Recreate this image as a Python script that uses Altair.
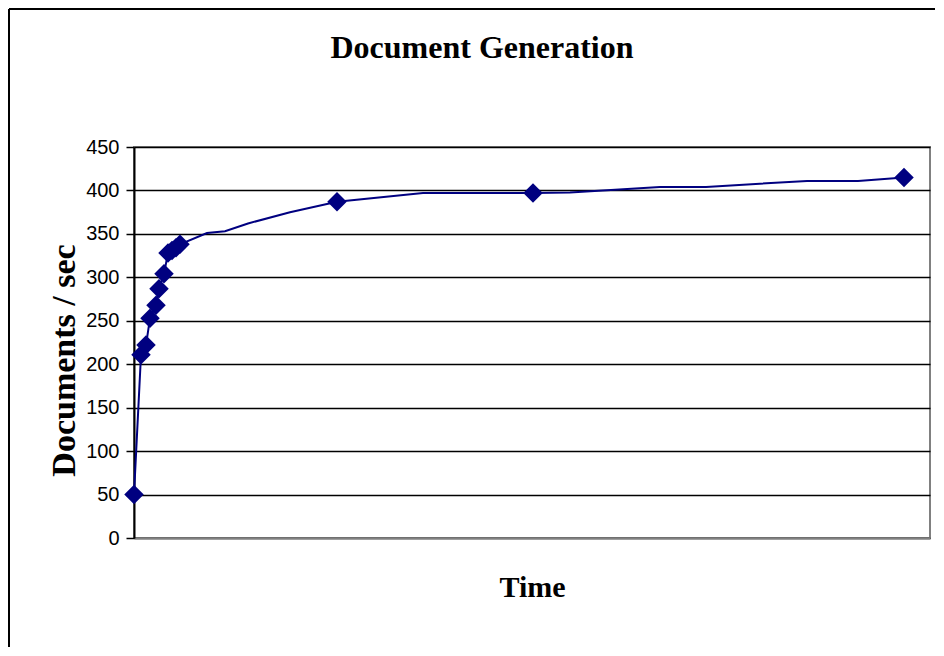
import altair as alt
import pandas as pd

# Line series (time in arbitrary units, documents/sec)
line_time = [0, 7, 12, 16, 22, 25, 30, 34, 38, 42, 46, 73, 91, 114, 156, 203,
             289, 399, 436, 526, 572, 673, 724, 770]
line_docs = [50, 211, 222, 253, 268, 287, 304, 328, 331, 334, 338, 351, 353,
             362, 375, 387, 397, 397, 397.5, 404, 404, 411, 411, 415]

# Marked measurements
mark_time = [0, 7, 12, 16, 22, 25, 30, 34, 38, 42, 46, 203, 399, 770]
mark_docs = [50, 211, 222, 253, 268, 287, 304, 328, 331, 334, 338, 387, 397, 415]

y_ticks = [0, 50, 100, 150, 200, 250, 300, 350, 400, 450]

title_text = "Document Generation"
x_title = "Time"
y_title = "Documents / sec"

NAVY = "#000080"
W, H = 796, 391

line_df = pd.DataFrame({"t": line_time, "d": line_docs})
mark_df = pd.DataFrame({"t": mark_time, "d": mark_docs})

x_enc = alt.X("t:Q", scale=alt.Scale(domain=[0, 796], nice=False, zero=False),
              axis=alt.Axis(title=x_title, labels=False, ticks=False, grid=False,
                            domainColor="#808080", domainWidth=2,
                            titleFont="Liberation Serif", titleFontSize=30,
                            titleFontWeight="bold", titleColor="black",
                            titlePadding=34))
y_enc = alt.Y("d:Q", scale=alt.Scale(domain=[0, 450], nice=False),
              axis=alt.Axis(title=y_title, values=y_ticks, grid=True,
                            gridColor="black", gridWidth=1.5,
                            domainColor="black", domainWidth=2,
                            tickColor="black", tickWidth=1.5, tickSize=8,
                            labelFont="Liberation Sans", labelFontSize=20,
                            labelColor="black", labelPadding=7,
                            titleFont="Liberation Serif", titleFontSize=34,
                            titleFontWeight="bold", titleColor="black",
                            titlePadding=4, titleY=213))

line = alt.Chart(line_df).mark_line(color=NAVY, strokeWidth=2).encode(x=x_enc, y=y_enc)
pts = alt.Chart(mark_df).mark_point(shape="diamond", filled=True, color=NAVY,
                                    opacity=1, size=380).encode(x="t:Q", y="d:Q")

one = alt.Data(values=[{}])
title = alt.Chart(one).mark_text(text=title_text, font="Liberation Serif",
                                 fontSize=32, fontWeight="bold", color="black",
                                 baseline="middle", align="center").encode(
    x=alt.value(348), y=alt.value(-99))
left_border = alt.Chart(one).mark_rule(color="black", strokeWidth=2).encode(
    x=alt.value(-125), y=alt.value(-138), y2=alt.value(500))
top_border = alt.Chart(one).mark_rule(color="black", strokeWidth=2).encode(
    y=alt.value(-138), x=alt.value(-125), x2=alt.value(801))

chart = alt.layer(line, pts, title, left_border, top_border).properties(
    width=W, height=H, padding=0, background="white"
).configure_view(stroke="#808080", strokeWidth=2)

chart.save("out.html", embed_options={"renderer": "svg", "actions": False})
